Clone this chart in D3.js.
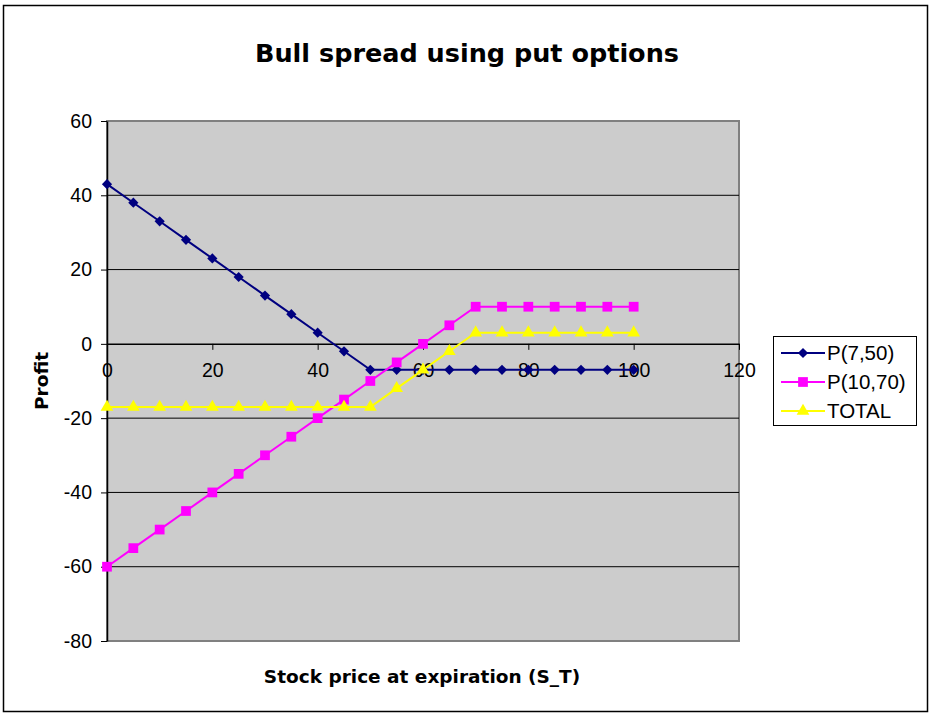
<!DOCTYPE html>
<html>
<head>
<meta charset="utf-8">
<script src="https://cdn.jsdelivr.net/npm/d3@7"></script>
<style>
  body { margin: 0; background: #fff; }
  text { font-family: "DejaVu Sans", Verdana, sans-serif; fill: #000; }
</style>
</head>
<body>
<svg width="932" height="714"></svg>
<script>
// stock prices at expiration
var prices = [0, 5, 10, 15, 20, 25, 30, 35, 40, 45, 50, 55, 60, 65, 70, 75, 80, 85, 90, 95, 100];
// profit of each leg
var p750 = [43, 38, 33, 28, 23, 18, 13, 8, 3, -2, -7, -7, -7, -7, -7, -7, -7, -7, -7, -7, -7];
var p1070 = [-60, -55, -50, -45, -40, -35, -30, -25, -20, -15, -10, -5, 0, 5, 10, 10, 10, 10, 10, 10, 10];
var total = [-17, -17, -17, -17, -17, -17, -17, -17, -17, -17, -17, -12, -7, -2, 3, 3, 3, 3, 3, 3, 3];

var xTicks = [0, 20, 40, 60, 80, 100, 120];
var yTicks = [60, 40, 20, 0, -20, -40, -60, -80];

var labelFont = "Liberation Sans, Arial, sans-serif";

// diamond = square turned 45deg
var series = [
    { name: "P(7,50)", values: p750, color: "#000080", marker: d3.symbolSquare, size: 52, rot: 45 },
    { name: "P(10,70)", values: p1070, color: "#ff00ff", marker: d3.symbolSquare, size: 95, rot: 0 },
    { name: "TOTAL", values: total, color: "#ffff00", marker: d3.symbolTriangle, size: 70, rot: 0 }
];

var svg = d3.select("svg");

// chart border
svg.append("rect")
    .attr("x", 3.5).attr("y", 5.5)
    .attr("width", 924).attr("height", 706)
    .attr("fill", "#fff").attr("stroke", "#000").attr("stroke-width", 1.5);

var plot = { left: 107, top: 121, right: 739, bottom: 641 };

var x = d3.scaleLinear().domain([0, 120]).range([plot.left, plot.right]);
var y = d3.scaleLinear().domain([-80, 60]).range([plot.bottom, plot.top]);

// plot area
svg.append("rect")
    .attr("x", plot.left).attr("y", plot.top)
    .attr("width", plot.right - plot.left).attr("height", plot.bottom - plot.top)
    .attr("fill", "#cccccc").attr("stroke", "#808080").attr("stroke-width", 2);

// horizontal grid lines
svg.append("g")
    .selectAll("line")
    .data(yTicks.filter(function (d) { return d != 60 && d != -80 && d != 0; }))
    .enter().append("line")
    .attr("x1", plot.left).attr("x2", plot.right)
    .attr("y1", function (d) { return y(d); })
    .attr("y2", function (d) { return y(d); })
    .attr("stroke", "#000").attr("stroke-width", 1);

var plain = function (d) { return String(d); }; // keep hyphen-minus like the original

// y axis
var yAxis = svg.append("g")
    .attr("transform", "translate(" + plot.left + ",0)")
    .call(d3.axisLeft(y).tickValues(yTicks).tickFormat(plain).tickSize(6).tickSizeOuter(0).tickPadding(9));
yAxis.select(".domain").attr("stroke", "#000").attr("stroke-width", 1.5);
yAxis.selectAll("text").style("font-size", "19.5px").style("font-family", labelFont);

// x axis at zero
var xAxis = svg.append("g")
    .attr("transform", "translate(0," + y(0) + ")")
    .call(d3.axisBottom(x).tickValues(xTicks).tickFormat(plain).tickSize(6).tickSizeOuter(0).tickPadding(13));
xAxis.select(".domain").attr("stroke", "#000").attr("stroke-width", 1.5);
xAxis.selectAll("text").style("font-size", "19.5px").style("font-family", labelFont);
xAxis.selectAll(".tick line").attr("stroke", "#000");

// lines & markers
var line = d3.line()
    .x(function (d, i) { return x(prices[i]); })
    .y(function (d) { return y(d); });

series.forEach(function (s) {
    svg.append("path")
        .datum(s.values)
        .attr("fill", "none")
        .attr("stroke", s.color)
        .attr("stroke-width", 2)
        .attr("d", line);
});
series.forEach(function (s) {
    svg.append("g")
        .selectAll("path")
        .data(s.values)
        .enter().append("path")
        .attr("d", d3.symbol().type(s.marker).size(s.size))
        .attr("fill", s.color)
        .attr("transform", function (d, i) {
            return "translate(" + x(prices[i]) + "," + y(d) + ") rotate(" + s.rot + ")";
        });
});

// title
svg.append("text")
    .attr("x", 467).attr("y", 62)
    .attr("text-anchor", "middle")
    .style("font-size", "25.5px").style("font-weight", "bold")
    .text("Bull spread using put options");

// axis titles
svg.append("text")
    .attr("x", (plot.left + plot.right) / 2 - 1).attr("y", 683)
    .attr("text-anchor", "middle")
    .style("font-size", "18.5px").style("font-weight", "bold")
    .text("Stock price at expiration (S_T)");

svg.append("text")
    .attr("transform", "translate(48,381) rotate(-90)")
    .attr("text-anchor", "middle")
    .style("font-size", "18.5px").style("font-weight", "bold")
    .text("Profit");

// legend
var legend = svg.append("g").attr("transform", "translate(773,336)");
legend.append("rect")
    .attr("x", 0.5).attr("y", 0.5)
    .attr("width", 143).attr("height", 89)
    .attr("fill", "#fff").attr("stroke", "#000");

var item = legend.selectAll(".item")
    .data(series)
    .enter().append("g")
    .attr("transform", function (d, i) { return "translate(0," + (17 + i * 29) + ")"; });
item.append("line")
    .attr("x1", 8).attr("x2", 52)
    .attr("stroke", function (d) { return d.color; }).attr("stroke-width", 2);
item.append("path")
    .attr("transform", function (d) { return "translate(30,0) rotate(" + d.rot + ")"; })
    .attr("d", function (d) { return d3.symbol().type(d.marker).size(d.size)(); })
    .attr("fill", function (d) { return d.color; });
item.append("text")
    .attr("x", 54).attr("y", 7)
    .style("font-size", "20.5px").style("font-family", labelFont)
    .text(function (d) { return d.name; });
</script>
</body>
</html>
